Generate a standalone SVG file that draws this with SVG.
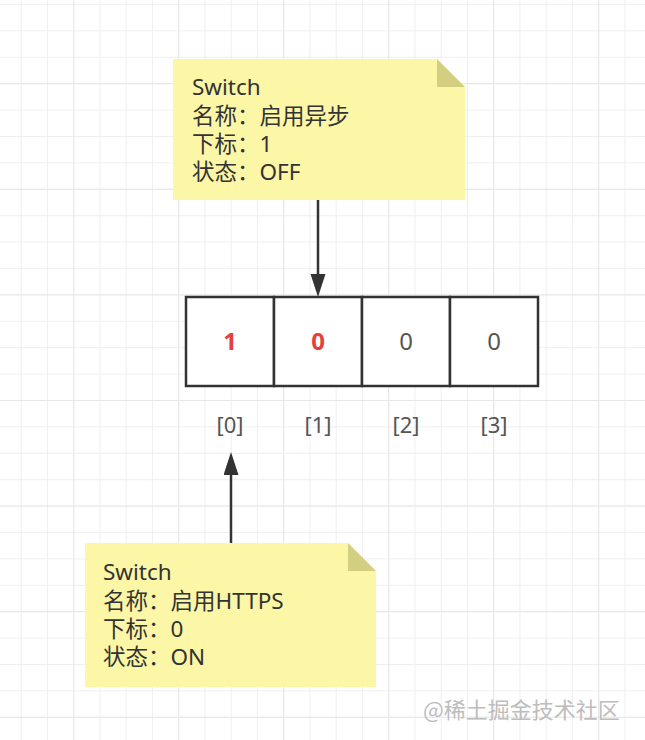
<svg xmlns="http://www.w3.org/2000/svg" width="645" height="740" viewBox="0 0 645 740">
<defs>
<pattern id="gridMinor" patternUnits="userSpaceOnUse" x="20.7" y="4" width="26.25" height="26.4">
<path d="M0 0.5 H26.25 M0.5 0 V26.4" fill="none" stroke="#efefef" stroke-width="1"/>
</pattern>
<pattern id="gridMajor" patternUnits="userSpaceOnUse" x="73.2" y="83.2" width="105" height="105.6">
<path d="M0 0.5 H105 M0.5 0 V105.6" fill="none" stroke="#e7e7e7" stroke-width="1"/>
</pattern>
<marker id="arrow" markerUnits="userSpaceOnUse" markerWidth="24" markerHeight="16" refX="0" refY="7.5" orient="auto">
<path d="M0 0 L23 7.5 L0 15 Z" fill="#333333"/>
</marker>
<style>
.note{fill:#fcf6a7;}
.fold{fill:#d2cf80;}
.ntext{font-family:"Noto Sans","Noto Sans CJK SC",sans-serif;font-size:22.5px;fill:#333333;}
.cell{fill:#ffffff;stroke:#333333;stroke-width:2.5;}
.val{font-family:"Noto Sans","Liberation Sans",sans-serif;font-size:24px;text-anchor:middle;fill:#555555;}
.hot{fill:#e5403a;font-weight:bold;}
.idx{font-family:"Noto Sans","Liberation Sans",sans-serif;font-size:22px;text-anchor:middle;fill:#555555;}
.conn{stroke:#333333;stroke-width:2.5;fill:none;}
.wm{font-family:"Noto Sans CJK SC",sans-serif;font-size:22px;fill:#bdbdbd;}
</style>
</defs>
<rect width="645" height="740" fill="#ffffff"/>
<rect width="645" height="740" fill="url(#gridMinor)"/>
<rect width="645" height="740" fill="url(#gridMajor)"/>

<g id="note-top">
<path class="note" d="M173 59 H437 L465 87 V200 H173 Z"/>
<path class="fold" d="M437 59 L465 87 H437 Z"/>
<text class="ntext" x="192" y="95">Switch</text>
<text class="ntext" x="192" y="124">名称：启用异步</text>
<text class="ntext" x="192" y="152">下标：1</text>
<text class="ntext" x="192" y="180">状态：OFF</text>
</g>

<g id="array">
<g id="cell-0"><rect class="cell" x="186" y="297" width="88" height="89"/><text class="val hot" x="230" y="350">1</text></g>
<g id="cell-1"><rect class="cell" x="274" y="297" width="88" height="89"/><text class="val hot" x="318" y="350">0</text></g>
<g id="cell-2"><rect class="cell" x="362" y="297" width="88" height="89"/><text class="val" x="406" y="350">0</text></g>
<g id="cell-3"><rect class="cell" x="450" y="297" width="88" height="89"/><text class="val" x="494" y="350">0</text></g>
</g>

<g id="indices">
<text class="idx" x="230" y="433">[0]</text>
<text class="idx" x="318" y="433">[1]</text>
<text class="idx" x="406" y="433">[2]</text>
<text class="idx" x="494" y="433">[3]</text>
</g>

<g id="note-bottom">
<path class="note" d="M85 543 H348 L376 571 V687 H85 Z"/>
<path class="fold" d="M348 543 L376 571 H348 Z"/>
<text class="ntext" x="103" y="580">Switch</text>
<text class="ntext" x="103" y="609">名称：启用HTTPS</text>
<text class="ntext" x="103" y="637">下标：0</text>
<text class="ntext" x="103" y="665">状态：ON</text>
</g>

<g id="connectors">
<path class="conn" d="M318 200 V274" marker-end="url(#arrow)"/>
<path class="conn" d="M231 543 V475" marker-end="url(#arrow)"/>
</g>

<text class="wm" x="423" y="718">@稀土掘金技术社区</text>
</svg>
